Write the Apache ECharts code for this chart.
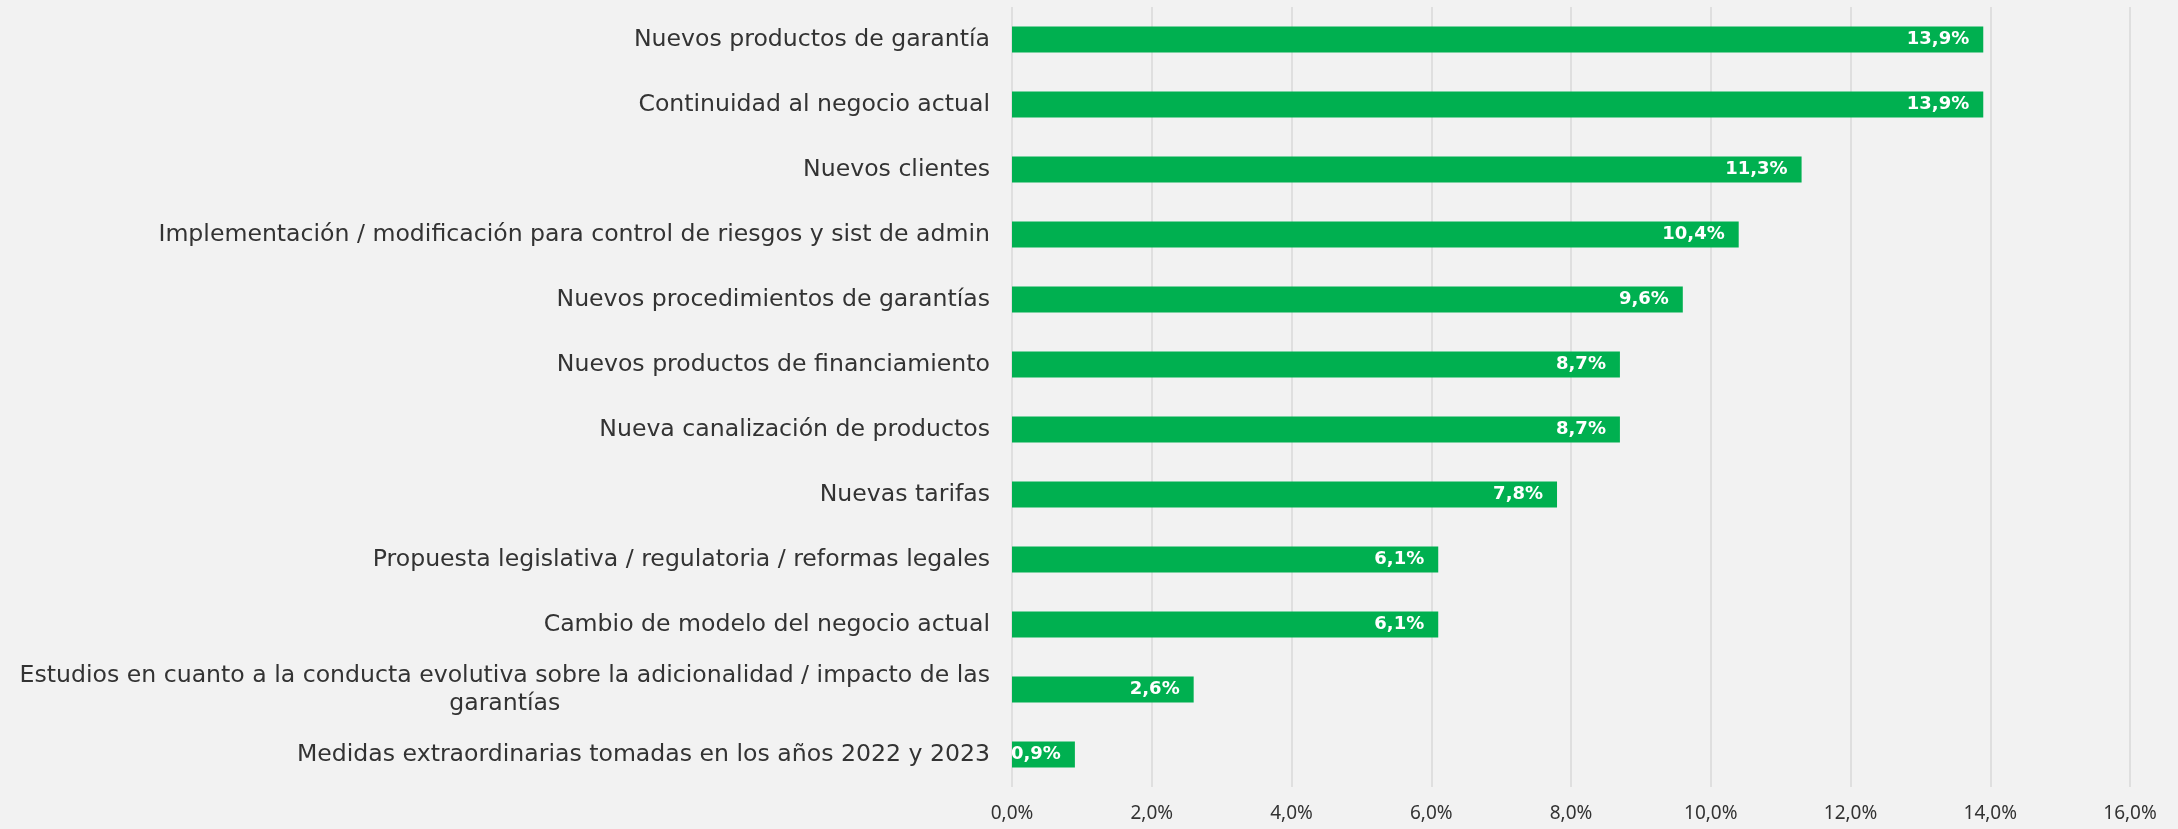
<!DOCTYPE html>
<html>
<head>
<meta charset="utf-8">
<script src="https://cdn.jsdelivr.net/npm/echarts@6/dist/echarts.min.js"></script>
<style>
	html, body { margin: 0; padding: 0; background: #f2f2f2; }
	#chart_1 { width: 2178px; height: 829px; }
</style>
</head>
<body>
<div id="chart_1"></div>
<script>
// categorias (de arriba hacia abajo)
var categorias = [
	'Nuevos productos de garantía',
	'Continuidad al negocio actual',
	'Nuevos clientes',
	'Implementación / modificación para control de riesgos y sist de admin',
	'Nuevos procedimientos de garantías',
	'Nuevos productos de financiamiento',
	'Nueva canalización de productos',
	'Nuevas tarifas',
	'Propuesta legislativa / regulatoria / reformas legales',
	'Cambio de modelo del negocio actual',
	'Estudios en cuanto a la conducta evolutiva sobre la adicionalidad / impacto de las\ngarantías',
	'Medidas extraordinarias tomadas en los años 2022 y 2023'
];
// porcentajes
var valores = [13.9, 13.9, 11.3, 10.4, 9.6, 8.7, 8.7, 7.8, 6.1, 6.1, 2.6, 0.9];
// eje x
var ejeMin = 0, ejeMax = 16, ejeIntervalo = 2;

function pct(v) {
	return v.toFixed(1).replace('.', ',') + '%';
}

var myChart = echarts.init(document.getElementById('chart_1'));
var option = {
	backgroundColor: '#f2f2f2',
	animation: false,
	textStyle: { fontFamily: 'DejaVu Sans' },
	grid: {
		left: 1012,
		right: 48,
		top: 7,
		bottom: 42,
		containLabel: false
	},
	xAxis: {
		type: 'value',
		min: ejeMin,
		max: ejeMax,
		interval: ejeIntervalo,
		axisLine: { show: false },
		axisTick: { show: false },
		splitLine: { show: true, lineStyle: { color: '#d9d9d9', width: 1.5 } },
		axisLabel: {
			color: '#333333',
			fontFamily: 'Noto Sans',
			fontSize: 19,
			margin: 17,
			formatter: pct
		}
	},
	yAxis: {
		type: 'category',
		inverse: true,
		data: categorias,
		axisLine: { show: false },
		axisTick: { show: false },
		axisLabel: {
			margin: 22,
			align: 'right',
			// lineas centradas entre si (etiqueta de dos lineas)
			formatter: function(v) { return '{c|' + v + '}'; },
			rich: {
				c: {
					align: 'center',
					color: '#333333',
					fontFamily: 'DejaVu Sans',
					fontSize: 23.6,
					lineHeight: 28
				}
			}
		}
	},
	series: [{
		type: 'bar',
		data: valores,
		barWidth: 26,
		itemStyle: { color: '#00b050' },
		label: {
			show: true,
			position: 'insideRight',
			distance: 14,
			color: '#ffffff',
			fontWeight: 'bold',
			fontSize: 18,
			formatter: function(p) { return pct(p.value); }
		}
	}]
};
myChart.setOption(option);
</script>
</body>
</html>
